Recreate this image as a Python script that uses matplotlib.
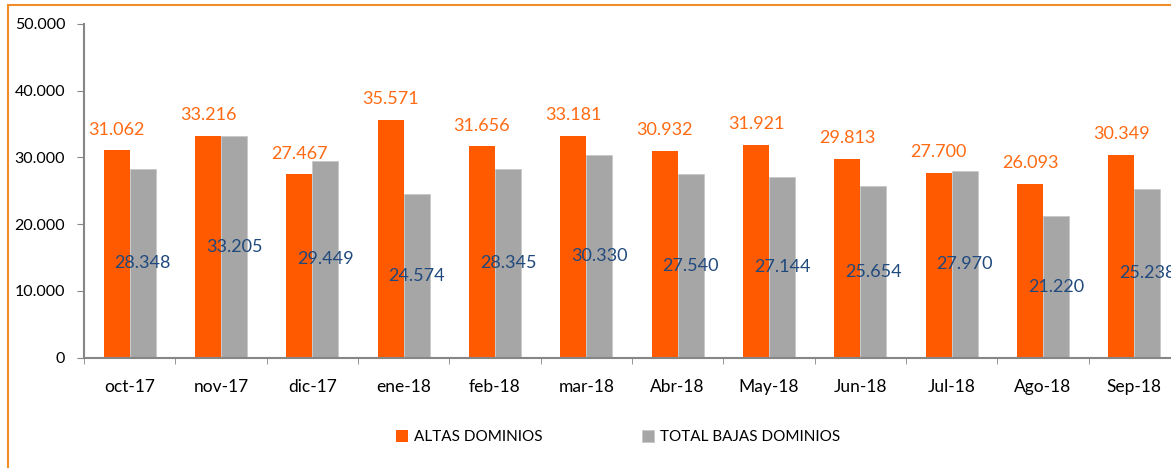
import matplotlib.pyplot as plt
from matplotlib.patches import Rectangle
import numpy as np

plt.rcParams['font.family'] = ['Lato', 'DejaVu Sans']

# data
months = ["oct-17", "nov-17", "dic-17", "ene-18", "feb-18", "mar-18",
          "Abr-18", "May-18", "Jun-18", "Jul-18", "Ago-18", "Sep-18"]
altas = [31062, 33216, 27467, 35571, 31656, 33181,
         30932, 31921, 29813, 27700, 26093, 30349]
bajas = [28348, 33205, 29449, 24574, 28345, 30330,
         27540, 27144, 25654, 27970, 21220, 25238]

orange = "#FF5A00"
gray = "#A6A6A6"


def fmt(v):
    # thousands with a dot, like the original
    return "{:,}".format(v).replace(",", ".")


fig = plt.figure(figsize=(11.71, 4.68), dpi=100)
# orange frame around the chart (right and bottom run off the picture)
fig.patches.append(Rectangle((8 / 1171, -0.1), 1.2, (468 - 5) / 468 + 0.1,
                             transform=fig.transFigure, fill=False,
                             edgecolor="#F28C28", linewidth=1.5))

ax = fig.add_axes([84 / 1171, (468 - 357.7) / 468, 1096 / 1171, 333.7 / 468])

x = np.arange(len(months))
w = 0.285
b1 = ax.bar(x - w / 2, altas, w, color=orange, label="ALTAS DOMINIOS")
b2 = ax.bar(x + w / 2, bajas, w, color=gray, edgecolor="#C8C8C8", linewidth=0.6,
            label="TOTAL BAJAS DOMINIOS")

for rect, v in zip(b1, altas):
    ax.annotate(fmt(v), (rect.get_x() + rect.get_width() / 2, v),
                xytext=(0, 15), textcoords="offset points",
                ha="center", va="center", color="#FF6A13", fontsize=13)
for rect, v in zip(b2, bajas):
    ax.text(rect.get_x() + rect.get_width() / 2, v / 2, fmt(v),
            ha="center", va="center", color="#1F497D", fontsize=13)

ax.set_xlim(-0.5, len(months) - 0.5)
ax.set_ylim(0, 50000)
ax.set_yticks(range(0, 50001, 10000))
ax.set_yticklabels([fmt(v) for v in range(0, 50001, 10000)])
ax.set_xticks(x)
ax.set_xticklabels(months)
ax.set_xticks(np.arange(len(months) + 1) - 0.5, minor=True)
ax.tick_params(axis="x", which="major", length=0, pad=15, labelsize=12.5)
ax.tick_params(axis="x", which="minor", length=4, color="#868686")
ax.tick_params(axis="y", length=5, color="#868686", pad=8.5, labelsize=11.5)

for s in ["top", "right"]:
    ax.spines[s].set_visible(False)
for s in ["left", "bottom"]:
    ax.spines[s].set_color("#868686")
    ax.spines[s].set_linewidth(1.5)

fig.legend(handles=[b1, b2], loc="center", bbox_to_anchor=(0.528, (468 - 437) / 468),
           ncol=2, frameon=False, fontsize=11, handlelength=0.8, handleheight=0.8,
           handletextpad=0.4, columnspacing=6.5)

fig.savefig("out.png", dpi=100)
